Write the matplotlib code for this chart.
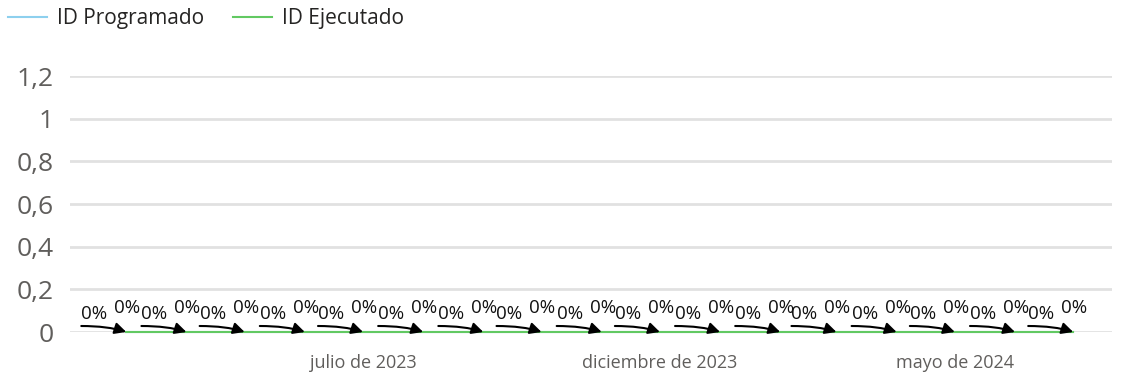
import matplotlib
matplotlib.use('Agg')
import matplotlib.pyplot as plt
import matplotlib.dates as mdates
import numpy as np
from datetime import date

plt.rcParams['font.family'] = ['Open Sans', 'DejaVu Sans']

# monthly data, march 2023 - july 2024
months = ['2023-03', '2023-04', '2023-05', '2023-06', '2023-07', '2023-08',
          '2023-09', '2023-10', '2023-11', '2023-12', '2024-01', '2024-02',
          '2024-03', '2024-04', '2024-05', '2024-06', '2024-07']
id_programado = [0, 0, 0, 0, 0, 0, 0, 0, 0, 0, 0, 0, 0, 0, 0, 0, 0]
id_ejecutado = [0, 0, 0, 0, 0, 0, 0, 0, 0, 0, 0, 0, 0, 0, 0, 0, 0]
pct_programado = ['0%'] * 17
pct_ejecutado = ['0%'] * 17

yticks = [0, 0.2, 0.4, 0.6, 0.8, 1.0, 1.2]
ytick_labels = ['0', '0,2', '0,4', '0,6', '0,8', '1', '1,2']
xtick_dates = [date(2023, 7, 1), date(2023, 12, 1), date(2024, 5, 1)]
xtick_labels = ['julio de 2023', 'diciembre de 2023', 'mayo de 2024']

dates = [date(int(m[:4]), int(m[5:]), 1) for m in months]
x = mdates.date2num(dates)

fig = plt.figure(figsize=(11.24, 3.78), dpi=100)
ax = fig.add_axes([70/1124, 46/378, 1042/1124, 256/378])

ax.plot(x, id_programado, color='#8DD0EE', lw=1.5, label='ID Programado', clip_on=False)
ax.plot(x, id_ejecutado, color='#62C962', lw=1.5, label='ID Ejecutado', clip_on=False)

# data labels with the little arrows
for xi, yi, lp, le in zip(x, id_ejecutado, pct_programado, pct_ejecutado):
    ax.annotate(le, (xi, yi), xytext=(1, 24), textcoords='offset pixels',
                ha='center', va='center', fontsize=13.5, color='#111111')
    ax.annotate(lp, (xi, yi), xytext=(-32, 18), textcoords='offset pixels',
                ha='center', va='center', fontsize=13.5, color='#111111')
    ax.annotate('', (xi, yi), xytext=(-45, 6), textcoords='offset pixels',
                arrowprops=dict(arrowstyle='-|>', color='black', lw=1.5,
                                mutation_scale=17, shrinkA=0, shrinkB=0,
                                connectionstyle='angle3,angleA=0,angleB=-18'))

ax.set_xlim(mdates.date2num(date(2023, 1, 31)), mdates.date2num(date(2024, 7, 21)))
ax.set_ylim(0, 1.2)
ax.set_yticks(yticks)
ax.set_yticklabels(ytick_labels)
ax.set_xticks(mdates.date2num(xtick_dates))
ax.set_xticklabels(xtick_labels)
ax.tick_params(axis='y', length=0, labelsize=19, labelcolor='#605E5C', pad=12)
ax.tick_params(axis='x', length=0, labelsize=13, labelcolor='#605E5C', pad=16)
ax.grid(axis='y', color='#E1E1E1', lw=2)
ax.set_axisbelow(True)
for s in ax.spines.values():
    s.set_visible(False)

ax.legend(loc='upper left', bbox_to_anchor=(8/1124, 1 - 8/378),
          bbox_transform=fig.transFigure, ncol=2, frameon=False, fontsize=15,
          handlelength=1.85, handletextpad=0.5, columnspacing=1.4, borderpad=0,
          borderaxespad=0, labelcolor='#252423')

plt.savefig('out.png', dpi=100)
